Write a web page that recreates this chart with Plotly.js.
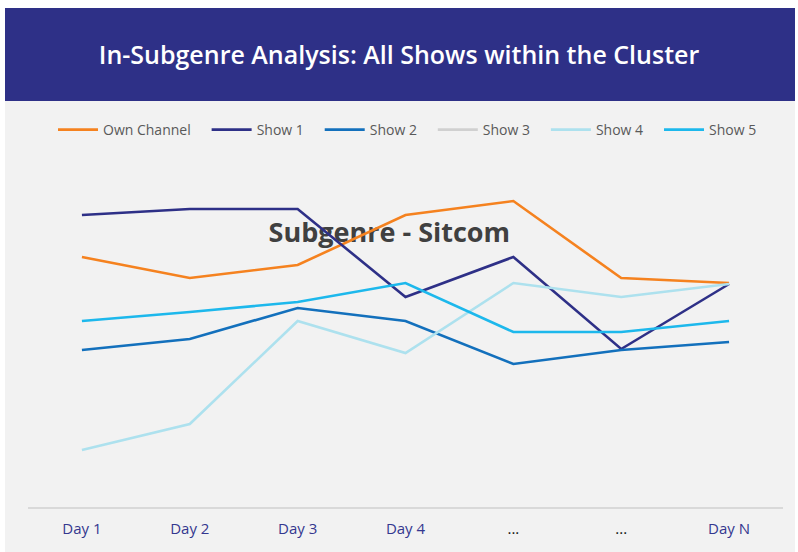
<!DOCTYPE html>
<html>
<head>
<meta charset="utf-8">
<script src="https://cdn.plot.ly/plotly-3.0.1.min.js"></script>
<style>html,body{margin:0;padding:0;background:#fff;}#chart{width:798px;height:552px;}</style>
</head>
<body>
<div id="chart"></div>
<script>
// ---- data ----
const categories = ["Day 1", "Day 2", "Day 3", "Day 4", "...", "...", "Day N"];
const ownChannel = [250, 229, 242, 292, 306, 229, 224];
const show1 = [292, 298, 298, 210, 250, 158, 223];
const show2 = [157, 168, 199, 186, 143, 157, 165];
const show3 = [null, null, null, null, null, null, null];
const show4 = [57, 83, 186, 154, 224, 210, 223];
const show5 = [186, 195, 205, 224, 175, 175, 186];
const seriesNames = ["Own Channel", "Show 1", "Show 2", "Show 3", "Show 4", "Show 5"];
const seriesColors = ["#F5821F", "#2E3087", "#1370BC", "#D0D0D0", "#ADE1EE", "#1DB8EC"];
const subtitle = "Subgenre - Sitcom";

const xIdx = categories.map((_, i) => i);
const tickText = categories.map(c => c.startsWith("Day")
  ? '<span style="color:#34378F">' + c + '</span>'
  : '<span style="color:#111111">' + c + '</span>');

const allSeries = [ownChannel, show1, show2, show3, show4, show5];
const legendPad = "\u00a0\u00a0\u00a0";

const traces = [{
  x: [2.85], y: [272], mode: "text", text: ["<b>" + subtitle + "</b>"],
  textfont: {family: "Open Sans, sans-serif", size: 27, color: "#404040"},
  showlegend: false, hoverinfo: "skip"
}];
allSeries.forEach((ys, k) => {
  traces.push({
    x: xIdx, y: ys, name: seriesNames[k] + legendPad, mode: "lines",
    line: {color: seriesColors[k], width: 2.6},
    type: "scatter"
  });
});

const layout = {
  width: 798, height: 552,
  margin: {l: 28, r: 15, t: 150, b: 45},
  paper_bgcolor: "#FFFFFF",
  plot_bgcolor: "rgba(0,0,0,0)",
  font: {family: "Open Sans, sans-serif"},
  title: {
    text: "In-Subgenre Analysis: All Shows within the Cluster",
    font: {family: "Open Sans, sans-serif", size: 25, color: "#FFFFFF", weight: 600},
    x: 0.5, xref: "container", xanchor: "center",
    y: 1 - 55 / 552, yref: "container", yanchor: "middle"
  },
  shapes: [
    {type: "rect", xref: "paper", yref: "paper", layer: "below",
     x0: (5 - 28) / 755, x1: (795 - 28) / 755, y0: -45 / 357, y1: (507 - 101) / 357,
     fillcolor: "#F2F2F2", line: {width: 0}},
    {type: "rect", xref: "paper", yref: "paper", layer: "below",
     x0: (5 - 28) / 755, x1: (795 - 28) / 755, y0: (507 - 101) / 357, y1: (507 - 8) / 357,
     fillcolor: "#2E3087", line: {width: 0}}
  ],
  xaxis: {
    tickmode: "array", tickvals: xIdx, ticktext: tickText,
    range: [-0.5, 6.5], showgrid: false, zeroline: false,
    showline: true, linecolor: "#D9D9D9", linewidth: 2,
    ticks: "", ticklen: 0, ticklabelstandoff: 7,
    tickfont: {size: 15, color: "#34378F"}
  },
  yaxis: {
    range: [0, 357], visible: false, showgrid: false, zeroline: false
  },
  legend: {
    orientation: "h", xref: "container", yref: "container",
    x: 53 / 798, xanchor: "left", y: 1 - 130 / 552, yanchor: "middle",
    itemwidth: 40,
    font: {size: 14, color: "#595959"}, bgcolor: "rgba(0,0,0,0)"
  },
  showlegend: true
};

Plotly.newPlot("chart", traces, layout, {displayModeBar: false, staticPlot: true});
</script>
</body>
</html>
